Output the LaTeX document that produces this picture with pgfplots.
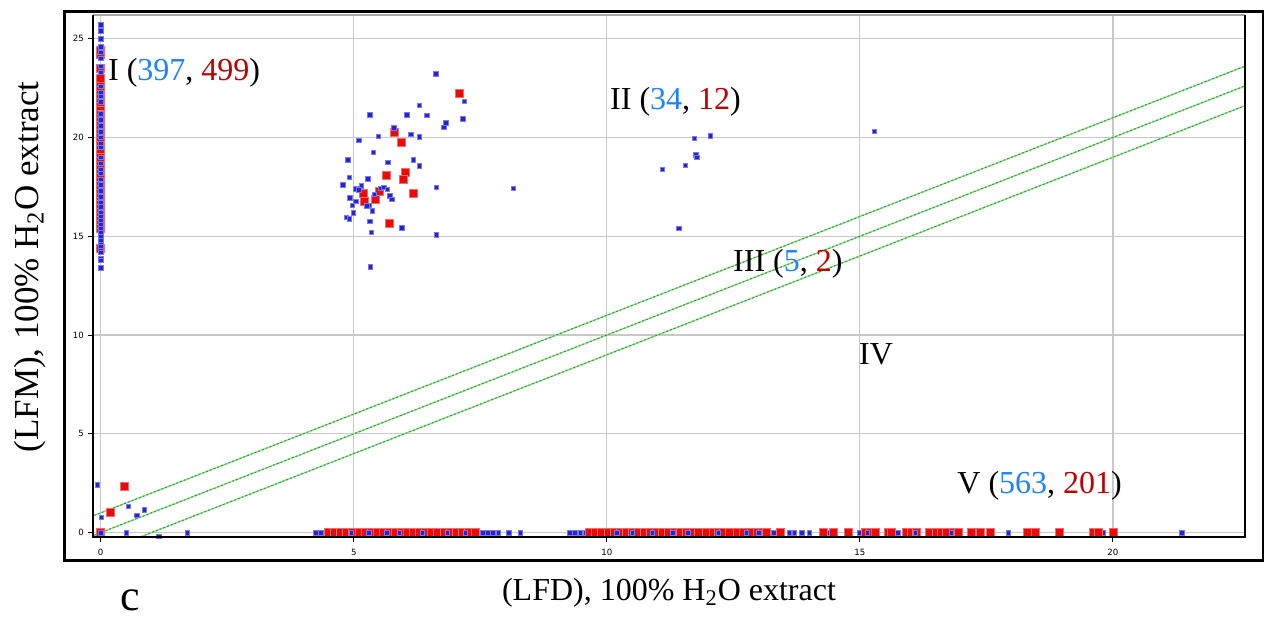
\documentclass[border=0pt]{standalone}
\usepackage{fontspec}
\setmainfont{Liberation Serif}
\newfontfamily\tickfont{DejaVu Sans}
\usepackage{pgfplots}
\pgfplotsset{compat=1.18}
\definecolor{mblue}{RGB}{35,35,215}
\definecolor{mred}{RGB}{235,10,10}
\definecolor{lblue}{RGB}{30,130,255}
\definecolor{lred}{RGB}{190,0,0}
\definecolor{gridgray}{RGB}{200,200,200}
\definecolor{gdark}{RGB}{30,160,30}
\definecolor{glight}{RGB}{150,220,150}
\tikzset{lab/.style={anchor=base west, inner sep=0pt, font=\fontsize{16}{18}\selectfont}}
\begin{document}
\begin{tikzpicture}
\useasboundingbox (-46.5pt,-41pt) rectangle (585.5pt,268.5pt);
\begin{axis}[at={(0,0)}, anchor=south west, scale only axis,
  width=576pt, height=261pt,
  xmin=-0.152, xmax=22.61, ymin=-0.22, ymax=26.2,
  xtick={0,5,10,15,20}, ytick={0,5,10,15,20,25},
  grid=major, grid style={draw=gridgray, line width=0.6pt},
  axis line style={draw=none},
  tick align=outside, xtick pos=bottom, ytick pos=left,
  major tick length=2.5pt, tick style={black, line width=0.5pt},
  tick label style={font=\tickfont\fontsize{4.3}{5}\selectfont},
  yticklabel style={xshift=1.5pt},
  /pgf/number format/assume math mode=true,
  clip=true]
% diagonal lines
\addplot[glight, line width=0.7pt, forget plot] coordinates {(-0.2,0.8) (22.7,23.7)};
\addplot[glight, line width=0.7pt, forget plot] coordinates {(-0.2,-0.2) (22.7,22.7)};
\addplot[glight, line width=0.7pt, forget plot] coordinates {(0.5,-0.5) (22.7,21.7)};
\addplot[gdark, line width=0.45pt, dash pattern=on 1pt off 1pt, forget plot] coordinates {(-0.2,0.8) (22.7,23.7)};
\addplot[gdark, line width=0.45pt, dash pattern=on 1pt off 1pt, forget plot] coordinates {(-0.2,-0.2) (22.7,22.7)};
\addplot[gdark, line width=0.45pt, dash pattern=on 1pt off 1pt, forget plot] coordinates {(0.5,-0.5) (22.7,21.7)};
% blue points of the bottom row, under the red ones
\addplot[only marks, mark=square*, mark size=1.1pt, mark options={fill=mblue, draw=mblue!60!white, line width=0.25pt}] coordinates {
(4.25,0) (4.35,0) (4.45,0) (4.55,0) (4.65,0) (4.75,0) (4.85,0) (4.95,0) (5.05,0) (5.15,0)
(5.25,0) (5.35,0) (5.45,0) (5.55,0) (5.65,0) (5.75,0) (5.85,0) (5.95,0) (6.05,0) (6.15,0)
(6.25,0) (6.35,0) (6.45,0) (6.55,0) (6.65,0) (6.75,0) (6.85,0) (6.95,0) (7.05,0) (7.15,0)
(7.25,0) (7.35,0) (7.45,0) (7.55,0) (7.65,0) (7.75,0) (7.85,0) (8.06,0) (8.29,0)
(9.27,0) (9.37,0) (9.47,0) (9.57,0) (9.7,0) (9.8,0) (9.9,0) (10.0,0) (10.1,0) (10.2,0)
(10.3,0) (10.4,0) (10.5,0) (10.6,0) (10.7,0) (10.8,0) (10.9,0) (11.0,0) (11.1,0) (11.2,0)
(11.3,0) (11.4,0) (11.5,0) (11.6,0) (11.7,0) (11.8,0) (11.9,0) (12.0,0) (12.1,0) (12.2,0)
(12.3,0) (12.4,0) (12.5,0) (12.6,0) (12.7,0) (12.8,0) (12.9,0) (13.0,0) (13.1,0) (13.2,0)
(13.3,0) (13.6,0) (13.7,0) (13.85,0) (14.0,0) (14.4,0) (15.0,0) (15.75,0) (16.95,0) (17.93,0)
(19.8,0) (21.36,0)
};
% red points
\addplot[only marks, mark=square*, mark size=2pt, mark options={fill=mred, draw=mred!60!white, line width=0.3pt}] coordinates {
(0,14.4) (0,15.4) (0,15.6) (0,15.8) (0,16.0) (0,16.2) (0,16.4) (0,16.6) (0,16.8) (0,17.0)
(0,17.2) (0,17.4) (0,17.6) (0,17.8) (0,18.0) (0,18.2) (0,18.4) (0,18.6) (0,18.8) (0,19.0)
(0,19.2) (0,19.4) (0,19.6) (0,19.8) (0,20.0) (0,20.2) (0,20.4) (0,20.6) (0,20.8) (0,21.0)
(0,21.2) (0,21.4) (0,21.6) (0,21.8) (0,22.0) (0,22.2) (0,22.4) (0,22.6) (0,22.8) (0,23.0)
(0,23.5) (0,24.2) (0,24.4)
(0.47,2.34) (0.18,1.05) (0,0)
(7.09,22.26) (5.80,20.28) (5.94,19.78) (6.01,18.24) (5.65,18.11) (5.97,17.89) (6.18,17.20)
(5.51,17.26) (5.18,17.18) (5.43,16.86) (5.20,16.78) (5.71,15.68)
(4.5,0) (4.62,0) (4.74,0) (4.86,0) (4.98,0) (5.1,0) (5.22,0) (5.34,0) (5.46,0) (5.58,0)
(5.7,0) (5.82,0) (5.94,0) (6.06,0) (6.18,0) (6.3,0) (6.42,0) (6.54,0) (6.66,0) (6.78,0)
(6.9,0) (7.02,0) (7.14,0) (7.26,0) (7.40,0)
(9.66,0) (9.78,0) (9.9,0) (10.02,0) (10.14,0) (10.26,0) (10.38,0) (10.5,0) (10.62,0) (10.74,0)
(10.86,0) (10.98,0) (11.1,0) (11.22,0) (11.34,0) (11.46,0) (11.58,0) (11.7,0) (11.8,0) (11.97,0)
(12.1,0) (12.2,0) (12.3,0) (12.43,0) (12.57,0) (12.7,0) (12.85,0) (12.98,0) (13.08,0) (13.16,0)
(13.42,0) (14.27,0) (14.47,0) (14.78,0) (15.1,0) (15.2,0) (15.3,0) (15.56,0) (15.63,0) (15.92,0)
(16.02,0) (16.12,0) (16.38,0) (16.52,0) (16.6,0) (16.71,0) (16.84,0) (16.95,0) (17.21,0) (17.37,0)
(17.58,0) (18.3,0) (18.46,0) (18.95,0) (19.61,0) (19.71,0) (20.0,0)
};
% blue points on top
\addplot[only marks, mark=square*, mark size=1.1pt, mark options={fill=mblue, draw=mblue!60!white, line width=0.25pt}] coordinates {
(0,25.7) (0,25.4) (0,25.0) (0,24.6) (0,24.3) (0,24.0) (0,23.6) (0,23.3) (0,22.6) (0,22.3)
(0,22.1) (0,21.8) (0,21.2) (0,20.9) (0,20.6) (0,20.3) (0,20.0) (0,19.7) (0,19.5) (0,19.0)
(0,18.7) (0,18.4) (0,18.2) (0,17.9) (0,17.6) (0,17.3) (0,17.0) (0,16.7) (0,16.5) (0,16.2)
(0,16.0) (0,15.8) (0,15.6) (0,15.4) (0,15.2) (0,15.0) (0,14.8) (0,14.6) (0,14.5) (0,14.3)
(0,14.2) (0,13.9) (0,13.8) (0,13.4)
(-0.07,2.43) (0.55,1.33) (0.01,0.79) (0.71,0.89) (0.86,1.16) (0,0) (0.5,0) (1.15,-0.19) (1.71,0)
(6.62,23.22) (6.29,21.63) (7.18,21.82) (5.32,21.16) (6.05,21.16) (6.44,21.14) (7.15,20.94)
(6.82,20.74) (6.78,20.52) (5.79,20.50) (5.49,20.05) (6.13,20.17) (6.30,20.03) (5.10,19.86)
(5.39,19.26) (4.88,18.87) (5.67,18.75) (6.17,18.87) (6.30,18.56) (4.91,17.99) (5.28,17.91)
(4.78,17.60) (5.15,17.55) (5.04,17.40) (5.10,17.35) (5.53,17.42) (5.59,17.47) (5.66,17.37)
(6.63,17.49) (4.92,16.96) (5.40,17.13) (5.71,17.05) (5.75,16.86) (5.04,16.78) (4.97,16.58)
(5.30,16.58) (5.26,16.54) (5.37,16.29) (4.99,16.20) (4.85,15.97) (4.91,15.88) (5.32,15.77)
(5.95,15.43) (5.35,15.21) (6.63,15.07) (5.33,13.45) (8.15,17.43)
(11.73,19.96) (12.04,20.08) (11.76,19.12) (11.78,18.99) (11.55,18.58) (11.10,18.40)
(11.42,15.41) (15.28,20.32)
(4.95,0) (5.3,0) (5.65,0) (5.9,0) (6.35,0) (6.85,0) (7.2,0)
(10.2,0) (10.5,0) (10.9,0) (11.3,0) (11.6,0) (12.2,0) (12.75,0) (13.0,0) (15.15,0) (16.1,0) (16.8,0)
};
% region labels
\node[lab] at (axis cs:0.14,22.9) {I (\textcolor{lblue}{397}, \textcolor{lred}{499})};
\node[lab] at (axis cs:10.06,21.4) {II (\textcolor{lblue}{34}, \textcolor{lred}{12})};
\node[lab] at (axis cs:12.49,13.2) {III (\textcolor{lblue}{5}, \textcolor{lred}{2})};
\node[lab] at (axis cs:14.98,8.5) {IV};
\node[lab] at (axis cs:16.92,2.0) {V (\textcolor{lblue}{563}, \textcolor{lred}{201})};
\end{axis}
% axis box
\draw[gray!70, line width=0.9pt] (0,261pt) -- (576pt,261pt);
\draw[black, line width=1.4pt] (0,261pt) -- (0,0) -- (576pt,0) -- (576pt,261pt);
% outer frame
\draw[black, line width=1.5pt] (-14pt,-12pt) rectangle (585pt,262.8pt);
% axis labels
\node[font=\fontsize{16}{18}\selectfont] at (288pt,-28pt) {(LFD), 100\% H\textsubscript{2}O extract};
\node[font=\fontsize{17.5}{19}\selectfont, rotate=90] at (-31.5pt,135pt) {(LFM), 100\% H\textsubscript{2}O extract};
\node[anchor=base, inner sep=0pt, font=\fontsize{22}{24}\selectfont] at (18.5pt,-37pt) {c};
\end{tikzpicture}
\end{document}
